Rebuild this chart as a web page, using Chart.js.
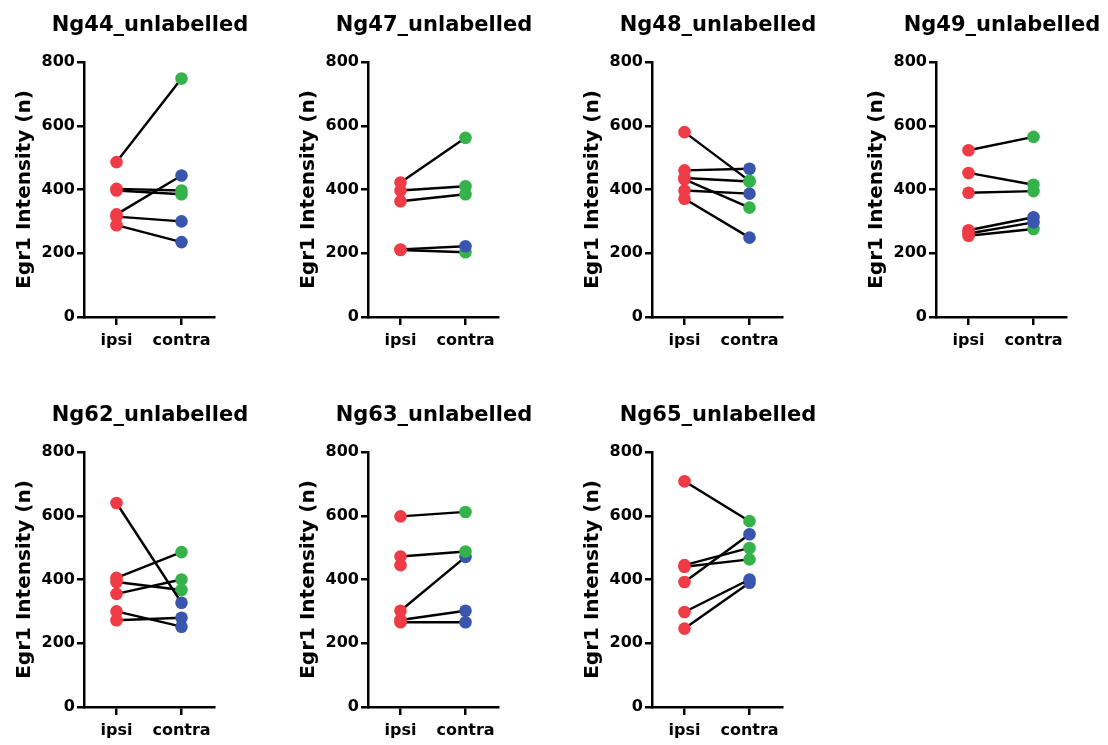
<!DOCTYPE html>
<html><head><meta charset="utf-8">
<script src="https://cdn.jsdelivr.net/npm/chart.js@4"></script>
<style>
html,body{margin:0;padding:0;background:#fff;overflow:hidden;width:1108px;height:745px;position:relative;}
canvas{position:absolute;}
</style></head><body>
<script>
// ---- data ----
const xLabels = ['ipsi', 'contra'];
const yTitle = 'Egr1 Intensity (n)';
const yTicks = [0, 200, 400, 600, 800];
const panelTitles = ['Ng44_unlabelled','Ng47_unlabelled','Ng48_unlabelled','Ng49_unlabelled','Ng62_unlabelled','Ng63_unlabelled','Ng65_unlabelled'];

const ipsi44   = [486, 402, 397, 322, 315, 288];
const contra44 = [748, 397, 385, 444, 300, 235];
const group44  = ['g','g','g','b','b','b'];

const ipsi47   = [422, 397, 363, 212, 210];
const contra47 = [562, 410, 385, 222, 203];
const group47  = ['g','g','g','b','g'];

const ipsi48   = [580, 460, 436, 432, 397, 371];
const contra48 = [427, 465, 425, 343, 387, 249];
const group48  = ['g','b','g','g','b','b'];

const ipsi49   = [523, 452, 390, 272, 262, 255];
const contra49 = [565, 415, 395, 313, 297, 276];
const group49  = ['g','g','g','b','b','g'];

const ipsi62   = [640, 405, 392, 355, 300, 272];
const contra62 = [327, 486, 367, 400, 252, 280];
const group62  = ['b','g','g','g','b','b'];

const ipsi63   = [598, 472, 445, 302, 273, 266];
const contra63 = [612, 488, null, 471, 302, 266];
const group63  = ['g','g','g','b','b','b'];

const ipsi65   = [708, 445, 440, 392, 298, 246];
const contra65 = [583, 499, 463, 542, 400, 390];
const group65  = ['g','g','g','b','b','b'];

// ---- style ----
const RED = '#EF3B45', GREEN = '#35B34A', BLUE = '#3A55AE';
const FONT = "'DejaVu Sans', sans-serif";

const panels = [
  [ipsi44, contra44, group44], [ipsi47, contra47, group47], [ipsi48, contra48, group48], [ipsi49, contra49, group49],
  [ipsi62, contra62, group62], [ipsi63, contra63, group63], [ipsi65, contra65, group65]
];

const panelTitlePlugin = {
  id: 'panelTitle',
  afterDraw(chart, args, opts) {
    const ctx = chart.ctx, a = chart.chartArea;
    ctx.save();
    ctx.font = 'bold 21px ' + FONT;
    ctx.fillStyle = '#000';
    ctx.textAlign = 'center';
    ctx.textBaseline = 'alphabetic';
    ctx.fillText(opts.text, (a.left + a.right) / 2 + 1, 30.5);
    ctx.restore();
  }
};

panels.forEach((p, k) => {
  const col = k % 4, row = Math.floor(k / 4);
  const cv = document.createElement('canvas');
  cv.width = 284; cv.height = 355;
  cv.style.left = (284 * col) + 'px';
  cv.style.top = (390 * row) + 'px';
  document.body.appendChild(cv);
  const [ipsi, contra, grp] = p;
  const datasets = ipsi.map((v, i) => ({
    data: [{x: 0, y: v}, {x: 1, y: contra[i]}],
    showLine: true,
    borderColor: '#000',
    borderWidth: 2.4,
    pointRadius: 6.3,
    pointHoverRadius: 6.3,
    pointBorderWidth: 0,
    pointBackgroundColor: [RED, grp[i] === 'g' ? GREEN : BLUE]
  }));
  new Chart(cv, {
    type: 'scatter',
    data: {datasets},
    plugins: [panelTitlePlugin],
    options: {
      responsive: false, animation: false, devicePixelRatio: 1,
      events: [],
      layout: {padding: {left: 0, right: 70, top: 62, bottom: 0}},
      plugins: {
        legend: {display: false},
        tooltip: {enabled: false},
        title: {display: false},
        panelTitle: {text: panelTitles[k]}
      },
      scales: {
        x: {
          type: 'linear', min: -0.5, max: 1.5,
          afterBuildTicks: s => { s.ticks = [{value: 0}, {value: 1}]; },
          afterFit: s => { s.height = 38; },
          ticks: {callback: v => xLabels[v], color: '#000', font: {family: FONT, size: 16, weight: 'bold'}, padding: 6, autoSkip: false, maxRotation: 0},
          grid: {display: true, drawOnChartArea: false, drawTicks: true, tickLength: 8, color: '#000', lineWidth: 2.5},
          border: {display: true, color: '#000', width: 2.5}
        },
        y: {
          min: 0, max: 800,
          afterBuildTicks: s => { s.ticks = yTicks.map(v => ({value: v})); },
          afterFit: s => { s.width = 84; },
          ticks: {color: '#000', font: {family: FONT, size: 16, weight: 'bold'}, padding: 2},
          grid: {display: true, drawOnChartArea: false, drawTicks: true, tickLength: 7, color: '#000', lineWidth: 2.5},
          border: {display: true, color: '#000', width: 2.5},
          title: {display: true, text: yTitle, color: '#000', font: {family: FONT, size: 20, weight: 'bold'}, padding: {top: 13, bottom: 0}}
        }
      }
    }
  });
});
</script>
</body></html>
